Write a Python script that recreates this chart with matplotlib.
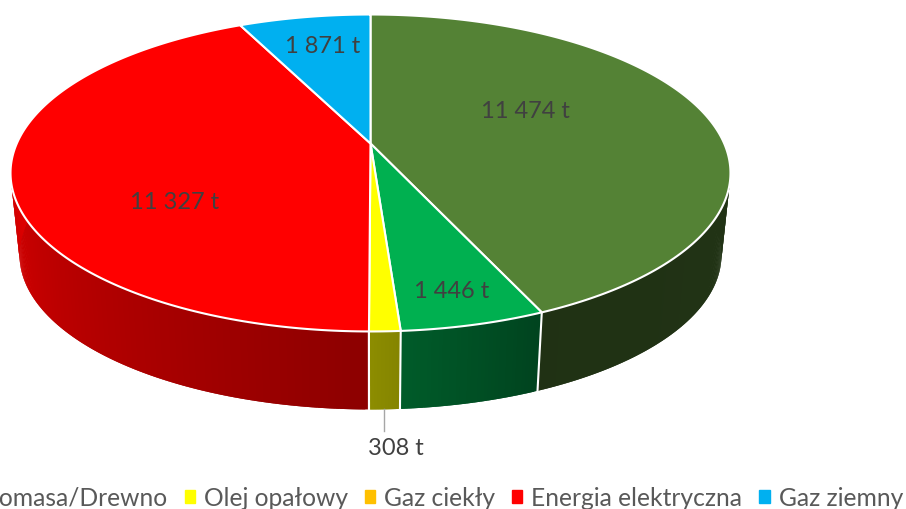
import numpy as np
import matplotlib
matplotlib.use('Agg')
import matplotlib.pyplot as plt
from matplotlib.patches import Patch

plt.rcParams['font.family'] = ['Lato', 'DejaVu Sans']

# Wartosci (zgodnie z ruchem wskazowek zegara, od gory)
wartosci = [11474, 1446, 308, 0, 11327, 1871]
kolory = ['#548235', '#00B050', '#FFFF00', '#FFC000', '#FF0000', '#00B0F0']

legenda_nazwy = ['Biomasa/Drewno', 'Olej opałowy', 'Gaz ciekły', 'Energia elektryczna', 'Gaz ziemny']
legenda_kolory = ['#00B050', '#FFFF00', '#FFC000', '#FF0000', '#00B0F0']

# Polozenie etykiet w pikselach (None = brak etykiety)
etykiety_xy = [(525, 111.5), (452, 291.5), (396, 448.5), None, (175, 202.5), (323, 46.5)]

# Geometria pseudo 3D
CX, CY = 370.5, 144.5
A, B, K = 353.7, 153.0, 0.186
GLEB_SKALA = 0.975
GLEB_Y = 227.2


def gora(theta):
    u, v = np.sin(theta), np.cos(theta)
    s = 1 / (1 + K * v)
    return CX + A * u * s, CY - B * v * s


def dol(theta):
    x, y = gora(theta)
    return CX + (x - CX) * GLEB_SKALA, GLEB_Y + (y - CY) * GLEB_SKALA


def cien(theta):
    # jasnosc sciany bocznej zalezna od kata
    return np.interp(np.degrees(theta), [0, 90, 156, 180, 270, 360],
                     [0.40, 0.40, 0.38, 0.55, 0.87, 0.87])


fig = plt.figure(figsize=(9.06, 5.10), dpi=100)
ax = fig.add_axes([0, 0, 1, 1])
ax.set_xlim(0, 906)
ax.set_ylim(510, 0)
ax.axis('off')

katy = np.concatenate([[0], np.cumsum(wartosci)]) / sum(wartosci) * 2 * np.pi

# sciany boczne - paski nachodza na siebie, zeby nie bylo szwow
krok = np.radians(0.5)
for i, kolor in enumerate(kolory):
    if wartosci[i] == 0:
        continue
    rgb = np.array(matplotlib.colors.to_rgb(kolor))
    t = np.arange(katy[i], katy[i + 1], krok)
    for t0 in t:
        t1 = min(t0 + 2 * krok, katy[i + 1])
        x0, y0 = gora(t0)
        x1, y1 = gora(t1)
        x2, y2 = dol(t1)
        x3, y3 = dol(t0)
        c = rgb * cien(t0 + krok / 2)
        ax.fill([x0, x1, x2, x3], [y0, y1, y2, y3], color=c, lw=0, zorder=1)

# linie miedzy scianami
for kat in katy[:-1]:
    if np.pi / 2 < kat < 3 * np.pi / 2:
        x0, y0 = gora(kat)
        x1, y1 = dol(kat)
        ax.plot([x0, x1], [y0, y1], color='white', lw=1.5, zorder=2)

# wierzch
for i, kolor in enumerate(kolory):
    if wartosci[i] == 0:
        continue
    t = np.linspace(katy[i], katy[i + 1], 200)
    x, y = gora(t)
    ax.fill(np.r_[CX, x], np.r_[CY, y], facecolor=kolor, edgecolor='white', lw=1.5,
            joinstyle='round', zorder=3)

# etykiety
for wartosc, xy in zip(wartosci, etykiety_xy):
    if xy is None:
        continue
    tekst = f'{wartosc:,} t'.replace(',', ' ')
    ax.text(xy[0], xy[1], tekst, color='#404040', fontsize=17, ha='center', va='center', zorder=5)

# linia do etykiety 308 t
srodek = (katy[2] + katy[3]) / 2
lx, ly = dol(srodek)
ax.plot([lx, lx], [ly, ly + 22], color='#A6A6A6', lw=1, zorder=4)

uchwyty = [Patch(color=k) for k in legenda_kolory]
ax.legend(uchwyty, legenda_nazwy, ncol=5, frameon=False, fontsize=17.7, labelcolor='#595959',
          loc='lower right', bbox_to_anchor=(903 / 906, 0.0), borderaxespad=0, borderpad=0,
          handlelength=0.41, handleheight=0.41, handletextpad=0.37, columnspacing=0.69)

fig.savefig('out.png', dpi=100)
